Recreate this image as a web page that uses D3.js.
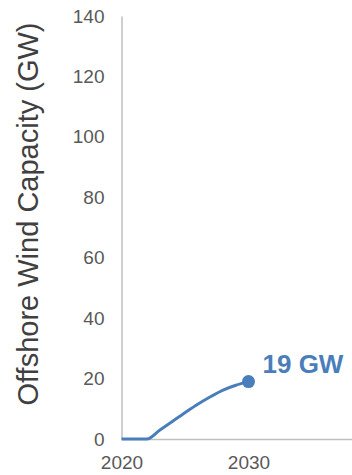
<!DOCTYPE html>
<html><head><meta charset="utf-8">
<script src="https://cdn.jsdelivr.net/npm/d3@7"></script>
<style>
html,body{margin:0;padding:0;background:#fff;}
svg{display:block;font-family:"Liberation Sans",Arial,sans-serif;}
</style></head>
<body>
<svg id="c" width="352" height="475"></svg>
<script>
const years = [2020, 2021, 2022, 2023, 2024, 2025, 2026, 2027, 2028, 2029, 2030];
const capacity = [0, 0, 0, 2.9, 5.8, 8.7, 11.5, 14, 16.2, 17.8, 19];
const yTicks = [0, 20, 40, 60, 80, 100, 120, 140];
const xTicks = [2020, 2030];
const yTitle = "Offshore Wind Capacity (GW)";
const endLabel = "19 GW";

const svg = d3.select("#c");
const x = d3.scaleLinear().domain([2020, 2040]).range([121.5, 375.5]);
const y = d3.scaleLinear().domain([0, 140]).range([439, 16]);

// x axis
const xa = svg.append("g").attr("transform", `translate(0,${y(0)})`)
  .call(d3.axisBottom(x).tickValues(xTicks).tickFormat(d3.format("d")).tickSize(0).tickPadding(17));
xa.select(".domain").attr("stroke", "#bfbfbf").attr("stroke-width", 1.5);
xa.selectAll("text").attr("font-size", 19).attr("fill", "#595959").attr("font-family", "Liberation Sans, Arial, sans-serif");

// y axis
const ya = svg.append("g").attr("transform", `translate(${x(2020)},0)`)
  .call(d3.axisLeft(y).tickValues(yTicks).tickSize(0).tickPadding(17));
ya.select(".domain").attr("stroke", "#bfbfbf").attr("stroke-width", 1.5);
ya.selectAll("text").attr("font-size", 19).attr("fill", "#595959").attr("font-family", "Liberation Sans, Arial, sans-serif");

// y title
svg.append("text")
  .attr("transform", `translate(38,${(20+408)/2}) rotate(-90)`)
  .attr("text-anchor", "middle")
  .attr("font-size", 29).attr("fill", "#404040")
  .text(yTitle);

const data = years.map((d, i) => ({year: d, v: capacity[i]}));
const line = d3.line().x(d => x(d.year)).y(d => y(d.v)).curve(d3.curveMonotoneX);
svg.append("path").datum(data).attr("d", line)
  .attr("fill", "none").attr("stroke", "#4a7ebb").attr("stroke-width", 3);

const last = data[data.length - 1];
svg.append("circle").attr("cx", x(last.year)).attr("cy", y(last.v)).attr("r", 6.5).attr("fill", "#4a7ebb");
svg.append("text").attr("x", x(last.year) + 14).attr("y", y(last.v) - 9)
  .attr("font-size", 26).attr("font-weight", "bold").attr("fill", "#4a7ebb")
  .text(endLabel);
</script>
</body></html>
